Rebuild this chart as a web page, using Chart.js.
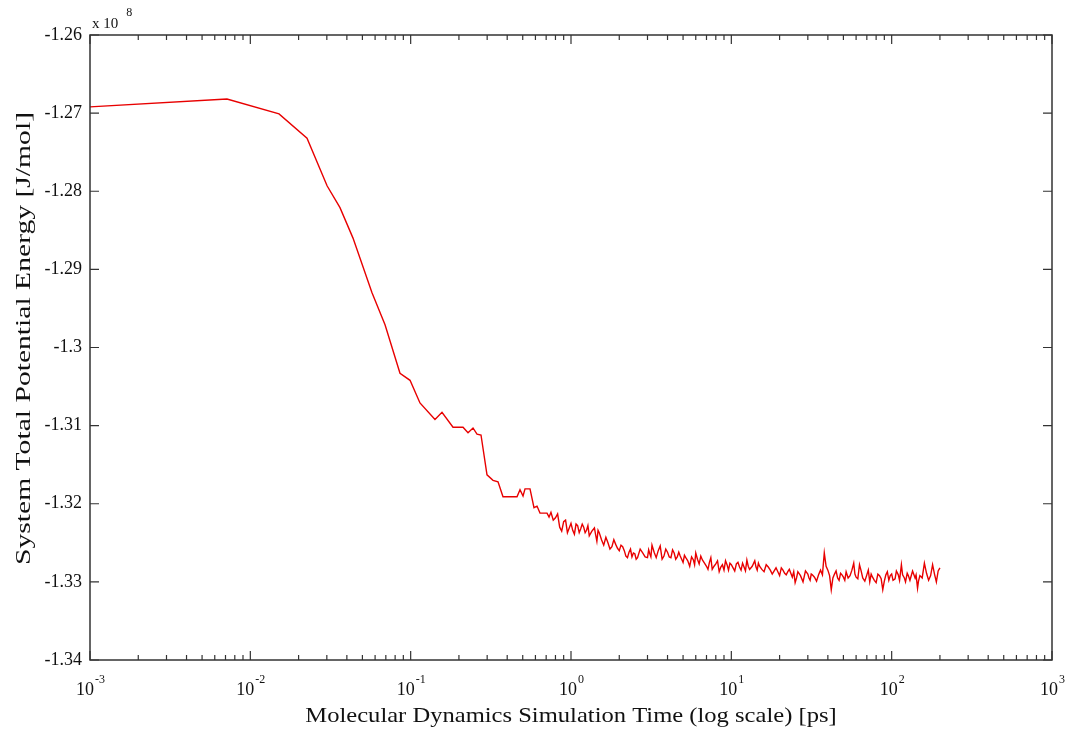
<!DOCTYPE html>
<html>
<head>
<meta charset="utf-8">
<script src="https://cdn.jsdelivr.net/npm/chart.js@4.4.0/dist/chart.umd.min.js"></script>
<style>
  html, body { margin: 0; padding: 0; background: #fff; }
  #wrap { width: 1069px; height: 736px; }
</style>
</head>
<body>
<div id="wrap"><canvas id="myChart" width="1069" height="736"></canvas></div>
<script>
// simulation time [ps]
const simTime = [
  0.001, 0.00715, 0.0151, 0.02257, 0.0301, 0.03624, 0.04369, 0.0574, 0.0692, 0.0858,
  0.0991, 0.1143, 0.1418, 0.1568, 0.1837, 0.2121, 0.2279, 0.2448, 0.2593, 0.2746,
  0.2993, 0.3263, 0.3506, 0.3766, 0.4605, 0.4808, 0.5021, 0.5167, 0.5551, 0.5877,
  0.6138, 0.6408, 0.7088, 0.7295,
  0.75, 0.775, 0.8, 0.825, 0.85, 0.875, 0.9, 0.925, 0.95, 0.975,
  1.0, 1.025, 1.05, 1.075, 1.1, 1.125, 1.15, 1.175, 1.2, 1.225,
  1.25, 1.275, 1.3, 1.35, 1.4, 1.425, 1.45, 1.475, 1.5, 1.55,
  1.6, 1.65, 1.7, 1.75, 1.8, 1.85, 1.9, 1.95, 2.0, 2.05,
  2.1, 2.15, 2.2, 2.25, 2.3, 2.35, 2.4, 2.45, 2.5, 2.55,
  2.6, 2.7, 2.8, 2.9, 3.0, 3.05, 3.1, 3.15, 3.2, 3.3,
  3.4, 3.5, 3.6, 3.7, 3.8, 3.9, 4.0, 4.1, 4.2, 4.3,
  4.4, 4.5, 4.6, 4.7, 4.8, 4.9, 5.0, 5.1, 5.2, 5.35,
  5.5, 5.65, 5.8, 5.9, 6.0, 6.15, 6.3, 6.45, 6.6, 6.8,
  7.0, 7.15, 7.3, 7.45, 7.6, 7.8, 8.0, 8.2, 8.4, 8.6,
  8.8, 9.0, 9.2, 9.4, 9.6, 9.8, 10, 10.25, 10.5, 10.75,
  11, 11.25, 11.5, 11.75, 12, 12.25, 12.5, 12.75, 13, 13.5,
  14, 14.25, 14.5, 14.75, 15, 15.5, 16, 16.5, 17, 17.5,
  18, 18.5, 19, 19.5, 20, 20.5, 21, 21.5, 22, 22.5,
  23, 23.5, 24, 24.5, 25, 25.5, 26, 27, 28, 29,
  30, 30.5, 31, 31.5, 32, 33, 34, 35, 36, 37,
  38, 39, 40, 41, 42, 43, 44, 45, 46, 47,
  48, 49, 50, 51, 52, 53.5, 55, 56.5, 58, 59,
  60, 61.5, 63, 64.5, 66, 68, 70, 71.5, 73, 74.5,
  76, 78, 80, 82, 84, 86, 88, 90, 92, 94,
  96, 98, 100, 102, 105, 107, 110, 112, 115, 117,
  120, 122, 125, 127, 130, 135, 140, 142, 145, 147,
  150, 155, 160, 165, 170, 175, 180, 185, 190, 195,
  200
];

// system total potential energy [x 10^8 J/mol]
const potentialEnergy = [
  -1.2692, -1.2682, -1.2701, -1.2732, -1.2793, -1.2821, -1.2860, -1.2930, -1.2971, -1.3033,
  -1.3042, -1.3071, -1.3092, -1.3083, -1.3102, -1.3102, -1.3109, -1.3103, -1.3111, -1.3112,
  -1.3163, -1.3170, -1.3172, -1.3191, -1.3191, -1.3182, -1.3190, -1.3181, -1.3181, -1.3205,
  -1.3203, -1.3212, -1.3212, -1.3217,
  -1.3211, -1.3221, -1.3218, -1.3213, -1.3230, -1.3235, -1.3223, -1.3221, -1.3237, -1.3231,
  -1.3225, -1.3234, -1.3239, -1.3226, -1.3228, -1.3237, -1.3232, -1.3226, -1.3230, -1.3237,
  -1.3234, -1.3228, -1.3241, -1.3235, -1.3231, -1.3240, -1.3248, -1.3234, -1.3237, -1.3246,
  -1.3253, -1.3243, -1.3250, -1.3258, -1.3255, -1.3246, -1.3252, -1.3257, -1.3260, -1.3253,
  -1.3255, -1.3260, -1.3267, -1.3269, -1.3262, -1.3258, -1.3268, -1.3263, -1.3264, -1.3271,
  -1.3269, -1.3258, -1.3263, -1.3268, -1.3269, -1.3259, -1.3264, -1.3268, -1.3253, -1.3262,
  -1.3269, -1.3260, -1.3254, -1.3271, -1.3267, -1.3258, -1.3262, -1.3268, -1.3269, -1.3259,
  -1.3263, -1.3271, -1.3268, -1.3262, -1.3267, -1.3271, -1.3275, -1.3266, -1.3269, -1.3273,
  -1.3280, -1.3268, -1.3272, -1.3278, -1.3263, -1.3271, -1.3277, -1.3267, -1.3272, -1.3276,
  -1.3280, -1.3284, -1.3275, -1.3269, -1.3284, -1.3280, -1.3277, -1.3273, -1.3287, -1.3281,
  -1.3278, -1.3285, -1.3273, -1.3278, -1.3285, -1.3276, -1.3278, -1.3282, -1.3286, -1.3277,
  -1.3275, -1.3281, -1.3285, -1.3276, -1.3281, -1.3286, -1.3272, -1.3280, -1.3284, -1.3280,
  -1.3273, -1.3281, -1.3285, -1.3276, -1.3280, -1.3284, -1.3287, -1.3278, -1.3281, -1.3285,
  -1.3290, -1.3286, -1.3282, -1.3287, -1.3292, -1.3282, -1.3285, -1.3289, -1.3291, -1.3287,
  -1.3284, -1.3289, -1.3294, -1.3287, -1.3301, -1.3295, -1.3287, -1.3292, -1.3300, -1.3286,
  -1.3290, -1.3295, -1.3298, -1.3290, -1.3291, -1.3294, -1.3299, -1.3291, -1.3285, -1.3291,
  -1.3263, -1.3280, -1.3285, -1.3292, -1.3310, -1.3295, -1.3290, -1.3286, -1.3295, -1.3298,
  -1.3289, -1.3291, -1.3294, -1.3298, -1.3287, -1.3295, -1.3292, -1.3285, -1.3276, -1.3290,
  -1.3294, -1.3296, -1.3278, -1.3286, -1.3295, -1.3299, -1.3291, -1.3285, -1.3300, -1.3290,
  -1.3294, -1.3298, -1.3301, -1.3290, -1.3292, -1.3296, -1.3310, -1.3299, -1.3291, -1.3287,
  -1.3298, -1.3292, -1.3290, -1.3298, -1.3296, -1.3286, -1.3291, -1.3298, -1.3278, -1.3291,
  -1.3295, -1.3300, -1.3289, -1.3292, -1.3298, -1.3286, -1.3295, -1.3291, -1.3308, -1.3299,
  -1.3292, -1.3295, -1.3276, -1.3289, -1.3298, -1.3292, -1.3278, -1.3290, -1.3300, -1.3286,
  -1.3282
];

const xDecades = [0.001, 0.01, 0.1, 1, 10, 100, 1000];
const xDecadeExponents = ["-3", "-2", "-1", "0", "1", "2", "3"];
const xMinorSteps = [2, 3, 4, 5, 6, 7, 8, 9];

const yTicks = [-1.26, -1.27, -1.28, -1.29, -1.3, -1.31, -1.32, -1.33, -1.34];
const yTickLabels = ["-1.26", "-1.27", "-1.28", "-1.29", "-1.3", "-1.31", "-1.32", "-1.33", "-1.34"];
const yExponent = "8";

const xTitle = "Molecular Dynamics Simulation Time (log scale) [ps]";
const yTitle = "System Total Potential Energy [J/mol]";

const serif = "'Liberation Serif', 'Times New Roman', serif";
const textColor = "#111";
const axisColor = "#333";

// MATLAB-like box with inward ticks, superscript labels and stretched titles
const matlabFrame = {
  id: "matlabFrame",
  afterDraw(chart) {
    const { ctx, chartArea: a } = chart;
    const xs = chart.scales.x;
    const ys = chart.scales.y;
    ctx.save();
    ctx.strokeStyle = axisColor;
    ctx.lineWidth = 1.5;
    ctx.strokeRect(a.left, a.top, a.right - a.left, a.bottom - a.top);

    ctx.lineWidth = 1.2;
    ctx.beginPath();
    xs.ticks.forEach((t) => {
      const px = xs.getPixelForValue(t.value);
      const len = t.major ? 9 : 5;
      ctx.moveTo(px, a.bottom);
      ctx.lineTo(px, a.bottom - len);
      ctx.moveTo(px, a.top);
      ctx.lineTo(px, a.top + len);
    });
    ys.ticks.forEach((t) => {
      const py = ys.getPixelForValue(t.value);
      ctx.moveTo(a.left, py);
      ctx.lineTo(a.left + 9, py);
      ctx.moveTo(a.right, py);
      ctx.lineTo(a.right - 9, py);
    });
    ctx.stroke();

    // x tick labels 10^n
    ctx.fillStyle = textColor;
    ctx.textBaseline = "alphabetic";
    ctx.textAlign = "left";
    xs.ticks.filter((t) => t.major).forEach((t) => {
      const px = xs.getPixelForValue(t.value);
      const exp = xDecadeExponents[xDecades.indexOf(t.value)];
      ctx.font = "18px " + serif;
      const wBase = ctx.measureText("10").width;
      ctx.font = "12px " + serif;
      const wExp = ctx.measureText(exp).width;
      const x0 = px - (wBase + wExp) / 2;
      ctx.font = "18px " + serif;
      ctx.fillText("10", x0, 695);
      ctx.font = "12px " + serif;
      ctx.fillText(exp, x0 + wBase + 1, 683);
    });

    // multiplier above the y axis
    ctx.font = "15px " + serif;
    ctx.fillText("x 10", a.left + 2, 28);
    const wx = ctx.measureText("x 10").width;
    ctx.font = "12px " + serif;
    ctx.fillText(yExponent, a.left + 2 + wx + 8, 16);

    // axis titles
    ctx.font = "21px " + serif;
    ctx.textAlign = "center";
    ctx.save();
    ctx.translate((a.left + a.right) / 2, 722);
    ctx.scale(1.17, 1);
    ctx.fillText(xTitle, 0, 0);
    ctx.restore();

    ctx.save();
    ctx.translate(30, 338.5);
    ctx.rotate(-Math.PI / 2);
    ctx.scale(1.41, 1);
    ctx.fillText(yTitle, 0, 0);
    ctx.restore();
    ctx.restore();
  },
};

new Chart(document.getElementById("myChart"), {
  type: "line",
  data: {
    datasets: [
      {
        data: simTime.map((t, i) => ({ x: t, y: potentialEnergy[i] })),
        borderColor: "rgb(232, 0, 0)",
        borderWidth: 1.4,
        pointRadius: 0,
        tension: 0,
        fill: false,
      },
    ],
  },
  options: {
    responsive: false,
    animation: false,
    layout: { padding: { top: 35, right: 17, left: 0, bottom: 0 } },
    plugins: { legend: { display: false }, tooltip: { enabled: false } },
    scales: {
      x: {
        type: "logarithmic",
        min: 0.001,
        max: 1000,
        grid: { display: false, drawTicks: false },
        border: { display: false },
        ticks: { display: false },
        afterBuildTicks: (s) => {
          const ticks = [];
          xDecades.forEach((d, i) => {
            ticks.push({ value: d, major: true });
            if (i < xDecades.length - 1) {
              xMinorSteps.forEach((m) => ticks.push({ value: d * m, major: false }));
            }
          });
          s.ticks = ticks;
        },
        afterFit: (s) => {
          s.height = 76;
        },
      },
      y: {
        min: -1.34,
        max: -1.26,
        grid: { display: false, drawTicks: false },
        border: { display: false },
        afterBuildTicks: (s) => {
          s.ticks = yTicks.map((v) => ({ value: v }));
        },
        ticks: {
          callback: (v, i) => yTickLabels[i],
          color: textColor,
          font: { family: serif, size: 18 },
          padding: 8,
        },
        afterFit: (s) => {
          s.width = 90;
        },
      },
    },
  },
  plugins: [matlabFrame],
});
</script>
</body>
</html>
